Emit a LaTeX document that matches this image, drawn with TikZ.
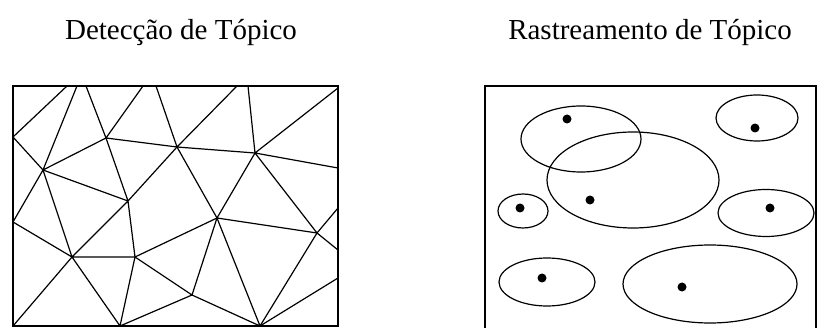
\documentclass[tikz,border=0pt]{standalone}
\usepackage{fontspec}
\setmainfont{Liberation Serif}
\usetikzlibrary{positioning}

\begin{document}
\begin{tikzpicture}[x=1pt, y=-1pt,
    titulo/.style={anchor=base, font=\fontsize{29}{34}\selectfont},
    quadro/.style={line width=2pt},
    aresta/.style={line width=1.2pt},
    grupo/.style={line width=1.2pt},
    ponto/.style={fill=black}]
  \useasboundingbox (0,0) rectangle (818,328);

  \node[titulo] (tdet) at (181,40) {Detecção de Tópico};
  \node[titulo] (tras) at (650,40) {Rastreamento de Tópico};

  % deteccao: malha de triangulos
  \coordinate (a) at (43,170);
  \coordinate (b) at (106,138);
  \coordinate (c) at (177,147);
  \coordinate (d) at (255,153);
  \coordinate (e) at (128,201);
  \coordinate (f) at (217,218);
  \coordinate (g) at (317,233);
  \coordinate (h) at (72,257);
  \coordinate (i) at (135,257);
  \coordinate (j) at (192,295);
  \coordinate (l1) at (13,137);
  \coordinate (l2) at (13,222);
  \coordinate (t1) at (67,86);
  \coordinate (t2) at (77,86);
  \coordinate (t3) at (86,86);
  \coordinate (t4) at (143,86);
  \coordinate (t5) at (156,86);
  \coordinate (t6) at (237,86);
  \coordinate (t7) at (248,86);
  \coordinate (t8) at (338,88);
  \coordinate (r1) at (338,168);
  \coordinate (r2) at (338,208);
  \coordinate (r3) at (338,250);
  \coordinate (r4) at (338,278);
  \coordinate (bl) at (13,326);
  \coordinate (b1) at (120,326);
  \coordinate (b2) at (260,326);

  \draw[aresta] (l1) -- (t1) (l1) -- (a) (a) -- (t2) (a) -- (b)
    (b) -- (t3) (b) -- (t4) (b) -- (c) (c) -- (t5) (c) -- (t6)
    (c) -- (d) (d) -- (t7) (d) -- (t8) (d) -- (r1);
  \draw[aresta] (a) -- (e) (b) -- (e) (c) -- (e) (c) -- (f) (d) -- (f)
    (d) -- (g) (f) -- (g) (g) -- (r2) (g) -- (r3) (b2) -- (r4);
  \draw[aresta] (a) -- (l2) (a) -- (h) (l2) -- (h) (e) -- (h) (e) -- (i)
    (h) -- (i) (h) -- (bl) (h) -- (b1) (i) -- (b1) (i) -- (f) (i) -- (j)
    (f) -- (j) (f) -- (b2) (g) -- (b2) (j) -- (b2) (j) -- (b1);
  \draw[quadro] (13,86) rectangle (338,326);

  % rastreamento: grupos
  \draw[quadro] (485,86) rectangle (816,332);
  \draw[grupo] (581,139) ellipse [x radius=60, y radius=33];
  \draw[grupo] (633,180) ellipse [x radius=86, y radius=48];
  \draw[grupo] (757,118) ellipse [x radius=41, y radius=23];
  \draw[grupo] (523,211) ellipse [x radius=25, y radius=17];
  \draw[grupo] (766,213) ellipse [x radius=48, y radius=23.5];
  \draw[grupo] (547,282) ellipse [x radius=48, y radius=24];
  \draw[grupo] (710,284) ellipse [x radius=87, y radius=39];
  \fill[ponto] (567,119) circle (4.5);
  \fill[ponto] (590,200) circle (4.5);
  \fill[ponto] (755,128) circle (4.5);
  \fill[ponto] (520,208) circle (4.5);
  \fill[ponto] (770,208) circle (4.5);
  \fill[ponto] (542,278) circle (4.5);
  \fill[ponto] (682,287) circle (4.5);
\end{tikzpicture}
\end{document}
